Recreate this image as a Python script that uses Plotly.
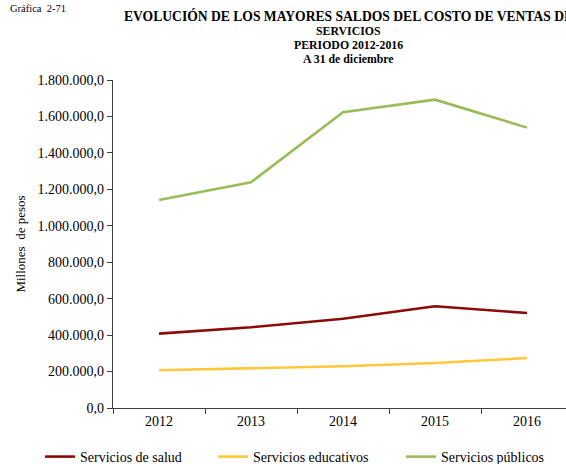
import plotly.graph_objects as go

years = ["2012", "2013", "2014", "2015", "2016"]
salud = [408000, 443000, 490000, 558000, 521000]
educativos = [207000, 218000, 229000, 247000, 274000]
publicos = [1141600, 1238700, 1623000, 1692000, 1538600]

series = [
    ("Servicios de salud", salud, "#8B0A0A"),
    ("Servicios educativos", educativos, "#FFC83A"),
    ("Servicios públicos", publicos, "#9BBB59"),
]

W, H = 566, 464
L, T, B = 113, 80, 56
SERIF = "Times New Roman, serif"

# one legend box per series so each entry sits at its own spot
legend_names = ["legend", "legend2", "legend3"]
legend_x = [40, 213, 401]

fig = go.Figure()
for (name, vals, color), lg in zip(series, legend_names):
    fig.add_trace(go.Scatter(
        x=years, y=vals, name=name, mode="lines",
        line=dict(color=color, width=2.6), legend=lg,
    ))

plot_w = W - L
center_px = 348

title_lines = [
    ("EVOLUCIÓN DE LOS MAYORES SALDOS DEL COSTO DE VENTAS DE", 13.6, 16),
    ("SERVICIOS", 11.8, 31),
    ("PERIODO 2012-2016", 11.8, 45),
    ("A 31 de diciembre", 11.8, 59),
]
for txt, size, yp in title_lines:
    fig.add_annotation(
        text="<b>%s</b>" % txt, xref="paper", yref="paper",
        x=(center_px - L) / plot_w, y=1 + (T - yp) / (H - T - B),
        xanchor="center", yanchor="middle", showarrow=False,
        font=dict(family=SERIF, size=size, color="#000000"),
    )

fig.add_annotation(
    text="Gráfica  2-71", xref="paper", yref="paper",
    x=(8 - L) / plot_w, y=1 + (T - 8) / (H - T - B),
    xanchor="left", yanchor="middle", showarrow=False,
    font=dict(family=SERIF, size=10.5, color="#000000"),
)

legend_style = dict(
    orientation="h", xref="container", yref="container",
    y=1 - 457 / H, xanchor="left", yanchor="middle",
    font=dict(family=SERIF, size=14, color="#000000"),
    itemwidth=30, bgcolor="rgba(0,0,0,0)",
)
legend_layout = {
    lg: dict(legend_style, x=lx / W) for lg, lx in zip(legend_names, legend_x)
}

fig.update_layout(
    width=W, height=H,
    margin=dict(l=L, r=0, t=T, b=B, pad=0),
    paper_bgcolor="white", plot_bgcolor="white",
    separators=",.",
    showlegend=True,
    xaxis=dict(
        type="category", range=[-0.5, 4.5 - 7 / 92],
        showgrid=False, showline=True, linecolor="#404040", linewidth=1.3,
        ticks="outside", tickson="boundaries", ticklen=5, tickcolor="#404040",
        tickfont=dict(family=SERIF, size=14, color="#000000"),
        fixedrange=True,
    ),
    yaxis=dict(
        range=[0, 1800000], dtick=200000, tickformat=",.1f",
        showgrid=False, showline=True, linecolor="#404040", linewidth=1.3,
        ticks="outside", ticklen=5, tickcolor="#404040",
        tickfont=dict(family=SERIF, size=14, color="#000000"),
        zeroline=False,
        title=dict(text="Millones  de pesos", standoff=8,
                   font=dict(family=SERIF, size=13, color="#000000")),
        fixedrange=True,
    ),
    **legend_layout,
)

fig.write_html("out.html")
